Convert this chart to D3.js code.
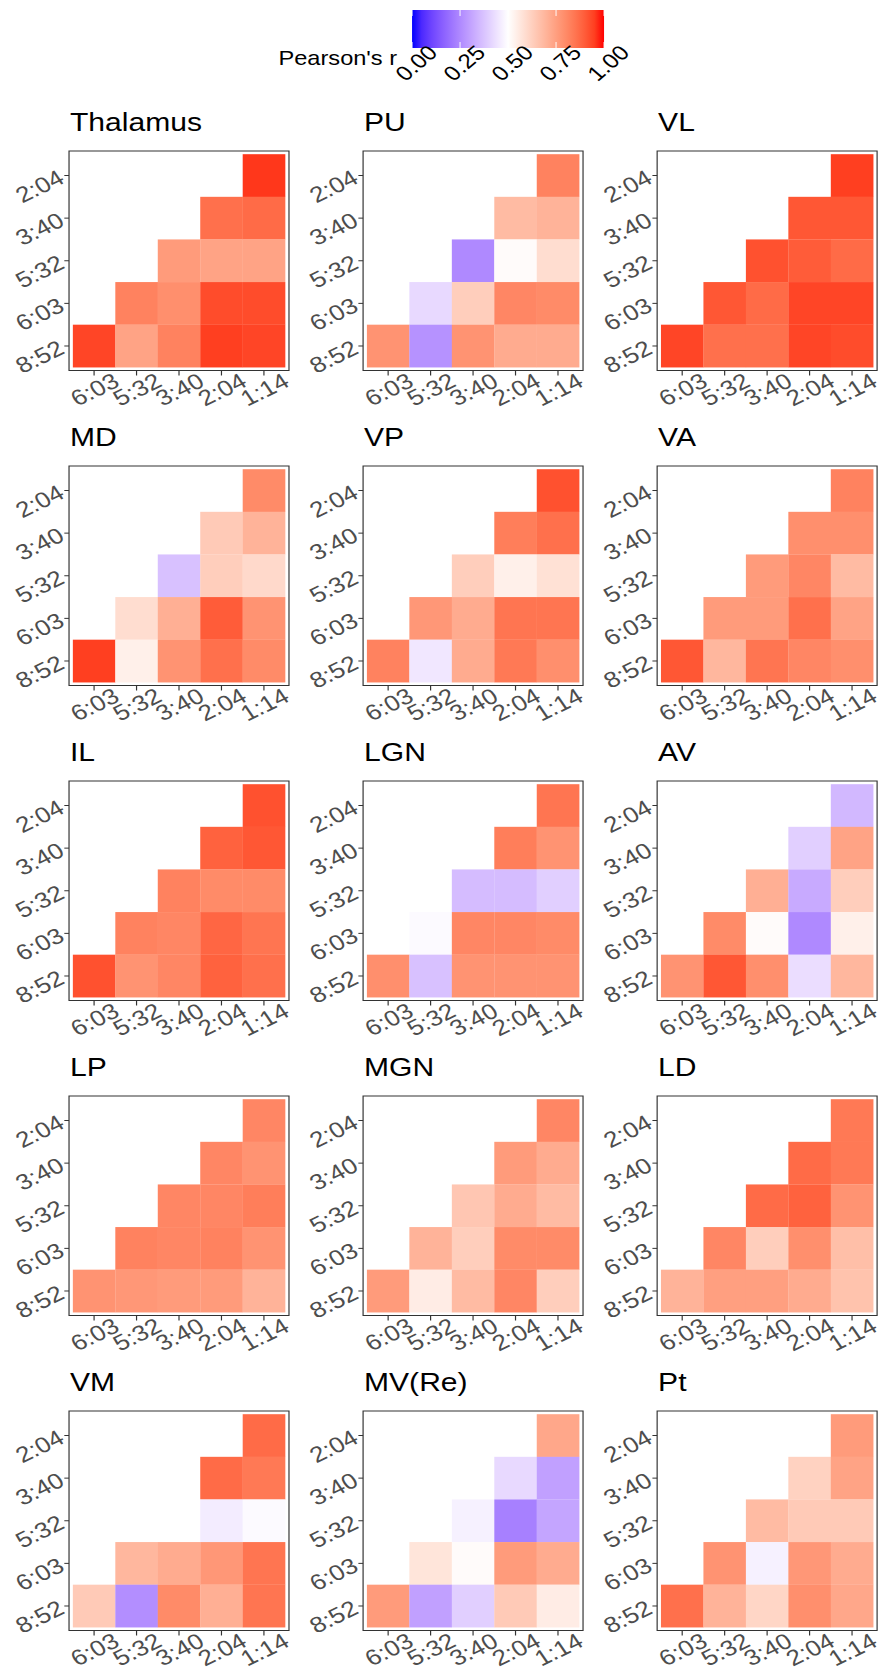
<!DOCTYPE html>
<html><head><meta charset="utf-8">
<script src="https://cdn.jsdelivr.net/npm/d3@7"></script>
<style>body{margin:0;background:#fff} svg{display:block}</style>
</head><body><svg id="chart"></svg>
<script>
// ---- data ----
const regions = ["Thalamus","PU","VL","MD","VP","VA","IL","LGN","AV","LP","MGN","LD","VM","MV(Re)","Pt"];
const rowTimes = ["2:04","3:40","5:32","6:03","8:52"];
const colTimes = ["6:03","5:32","3:40","2:04","1:14"];
const legendTicks = [0, 0.25, 0.5, 0.75, 1];
const legendLabels = ["0.00","0.25","0.50","0.75","1.00"];
// Pearson's r per region, one list per row (top row first), cells left-to-right ending at 1:14
const thalamus = [[0.96],[0.86,0.87],[0.76,0.74,0.74],[0.82,0.79,0.93,0.93],[0.94,0.74,0.82,0.95,0.94]];
const pu       = [[0.82],[0.68,0.70],[0.25,0.51,0.59],[0.42,0.63,0.81,0.80],[0.78,0.27,0.78,0.72,0.72]];
const vl       = [[0.95],[0.91,0.91],[0.92,0.90,0.87],[0.91,0.87,0.94,0.94],[0.94,0.86,0.86,0.94,0.93]];
const md       = [[0.80],[0.64,0.70],[0.37,0.63,0.60],[0.59,0.71,0.90,0.78],[0.95,0.54,0.78,0.86,0.80]];
const vp       = [[0.92],[0.83,0.86],[0.63,0.54,0.58],[0.77,0.72,0.85,0.85],[0.82,0.45,0.72,0.84,0.79]];
const va       = [[0.82],[0.79,0.79],[0.76,0.81,0.68],[0.76,0.76,0.86,0.74],[0.91,0.69,0.85,0.81,0.79]];
const il       = [[0.92],[0.89,0.91],[0.82,0.80,0.80],[0.82,0.81,0.88,0.85],[0.92,0.78,0.81,0.89,0.86]];
const lgn      = [[0.85],[0.83,0.78],[0.36,0.36,0.40],[0.49,0.81,0.81,0.80],[0.79,0.37,0.78,0.78,0.78]];
const av       = [[0.35],[0.40,0.74],[0.71,0.32,0.63],[0.80,0.51,0.25,0.54],[0.78,0.91,0.79,0.43,0.69]];
const lp       = [[0.81],[0.81,0.78],[0.81,0.81,0.83],[0.82,0.81,0.82,0.78],[0.78,0.77,0.76,0.76,0.70]];
const mgn      = [[0.81],[0.76,0.72],[0.65,0.72,0.68],[0.70,0.63,0.80,0.80],[0.76,0.55,0.68,0.81,0.63]];
const ld       = [[0.84],[0.87,0.84],[0.87,0.89,0.78],[0.81,0.63,0.79,0.67],[0.70,0.75,0.75,0.72,0.66]];
const vm       = [[0.87],[0.87,0.84],[0.50,0.46,0.49],[0.69,0.72,0.77,0.85],[0.64,0.26,0.80,0.71,0.85]];
const mvre     = [[0.73],[0.42,0.30],[0.47,0.23,0.31],[0.57,0.51,0.76,0.72],[0.76,0.30,0.40,0.64,0.55]];
const pt       = [[0.76],[0.62,0.74],[0.68,0.64,0.64],[0.78,0.47,0.77,0.72],[0.86,0.70,0.61,0.79,0.73]];
const panelValues = [thalamus, pu, vl, md, vp, va, il, lgn, av, lp, mgn, ld, vm, mvre, pt];

// ---- layout ----
const W = 881, H = 1672, SX = 1.18;
const VW = W / SX;
const FONT = "'Liberation Sans', Arial, Helvetica, sans-serif";
const PW = 186.4, PH = 219.5;
const panelLeft0 = 58.5, panelStepX = 249.2;
const panelTop0 = 151, panelStepY = 315;
const TICK_FS = 22;

const svg = d3.select("#chart")
  .attr("width", W).attr("height", H)
  .attr("viewBox", `0 0 ${VW} ${H}`)
  .attr("preserveAspectRatio", "none")
  .style("font-family", FONT);
svg.append("rect").attr("width", VW).attr("height", H).attr("fill", "#fff");

const color = d3.scaleLinear().domain([0, 0.5, 1]).range(["blue", "white", "red"])
  .interpolate(d3.interpolateLab).clamp(true);

// ---- legend ----
const lx = d3.scaleLinear().domain([0, 1]).range([349.2, 511.9]);
const barTop = 10, barH = 38;
const grad = svg.append("defs").append("linearGradient").attr("id", "lg")
  .attr("x1", "0%").attr("x2", "100%").attr("y1", "0%").attr("y2", "0%");
d3.range(0, 1.0001, 0.05).forEach(t => {
  grad.append("stop").attr("offset", (t * 100) + "%").attr("stop-color", color(t));
});
const leg = svg.append("g");
leg.append("rect").attr("x", lx(0)).attr("y", barTop).attr("width", lx(1) - lx(0)).attr("height", barH)
  .attr("fill", "url(#lg)");
legendTicks.forEach(v => {
  leg.append("line").attr("x1", lx(v)).attr("x2", lx(v)).attr("y1", barTop).attr("y2", barTop + 6)
    .attr("stroke", "#fff").attr("stroke-opacity", 0.8).attr("stroke-width", 1);
  leg.append("line").attr("x1", lx(v)).attr("x2", lx(v)).attr("y1", barTop + barH - 6).attr("y2", barTop + barH)
    .attr("stroke", "#fff").attr("stroke-opacity", 0.8).attr("stroke-width", 1);
});
legendTicks.forEach((v, i) => {
  leg.append("text").text(legendLabels[i])
    .attr("transform", `translate(${lx(v) + 3.5},${63}) rotate(-45)`)
    .attr("text-anchor", "middle").attr("dy", "0.35em")
    .attr("font-size", 20.5).attr("fill", "#000");
});
leg.append("text").text("Pearson's r")
  .attr("x", 336.5).attr("y", 65.5).attr("text-anchor", "end")
  .attr("font-size", 20).attr("fill", "#000");

// ---- panels ----
const x = d3.scaleBand().domain(colTimes).range([0, PW]).paddingInner(0).paddingOuter(0.09);
const y = d3.scaleBand().domain(rowTimes).range([0, PH]).paddingInner(0).paddingOuter(0.075);

regions.forEach((name, idx) => {
  const c = idx % 3, r = Math.floor(idx / 3);
  const g = svg.append("g").attr("transform", `translate(${panelLeft0 + c * panelStepX},${panelTop0 + r * panelStepY})`);
  const vals = panelValues[idx];
  const cells = [];
  vals.forEach((row, i) => {
    const start = colTimes.length - row.length;
    row.forEach((v, j) => cells.push({ row: rowTimes[i], col: colTimes[start + j], v }));
  });
  g.append("rect").attr("width", PW).attr("height", PH).attr("fill", "#fff");
  g.selectAll("rect.cell").data(cells).join("rect").attr("class", "cell")
    .attr("x", d => x(d.col)).attr("y", d => y(d.row))
    .attr("width", x.bandwidth() + 0.15).attr("height", y.bandwidth() + 0.15)
    .attr("fill", d => color(d.v));
  g.append("rect").attr("width", PW).attr("height", PH).attr("fill", "none")
    .attr("stroke", "#333").attr("stroke-width", 1);

  const ya = g.append("g").call(d3.axisLeft(y).tickSize(4));
  ya.select(".domain").remove();
  ya.selectAll(".tick line").attr("stroke", "#333").attr("stroke-width", 1);
  ya.selectAll(".tick text").attr("x", 0).attr("dy", "0.35em")
    .attr("transform", "translate(-6.5,0) rotate(-30)").attr("text-anchor", "end")
    .attr("font-size", TICK_FS).attr("font-family", FONT).attr("fill", "#4d4d4d");

  const xa = g.append("g").attr("transform", `translate(0,${PH})`).call(d3.axisBottom(x).tickSize(5));
  xa.select(".domain").remove();
  xa.selectAll(".tick line").attr("stroke", "#333").attr("stroke-width", 1);
  xa.selectAll(".tick text").attr("y", 0).attr("dy", "0.35em")
    .attr("transform", "translate(0.5,19) rotate(-30)").attr("text-anchor", "middle")
    .attr("font-size", TICK_FS).attr("font-family", FONT).attr("fill", "#4d4d4d");

  g.append("text").text(name).attr("x", 0.8).attr("y", -20)
    .attr("font-size", 25.5).attr("fill", "#000");
});
</script></body></html>
